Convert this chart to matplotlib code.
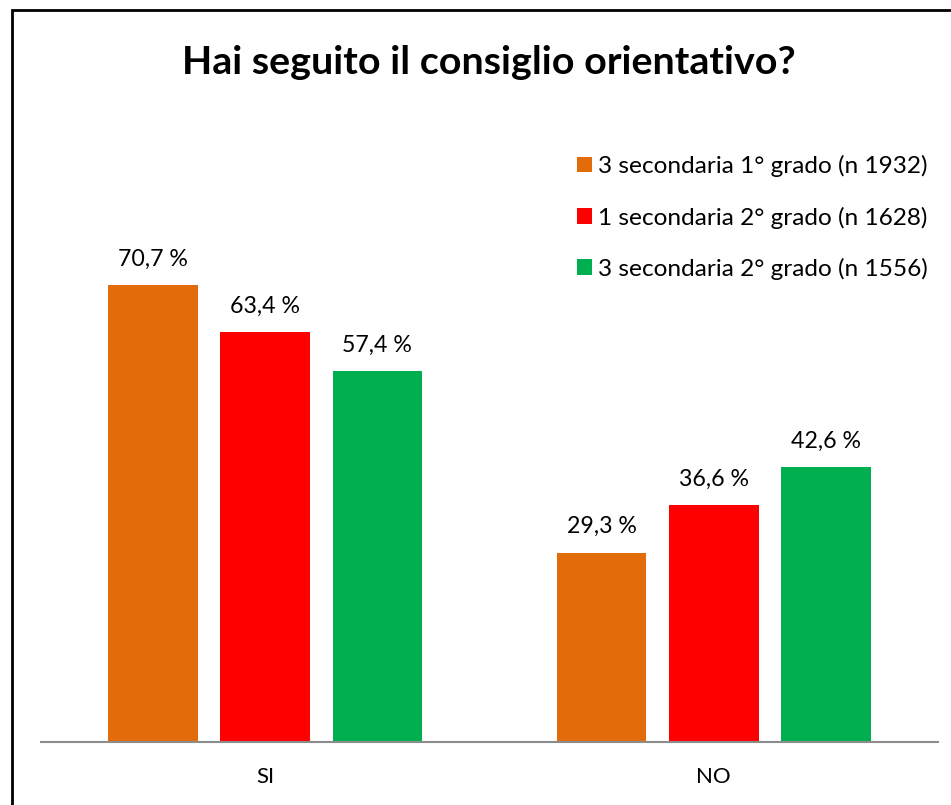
import numpy as np
import matplotlib.pyplot as plt
from matplotlib.patches import Rectangle

categorie = ['SI', 'NO']
serie = ['3 secondaria 1° grado (n 1932)',
         '1 secondaria 2° grado (n 1628)',
         '3 secondaria 2° grado (n 1556)']
valori_1grado_3 = [70.7, 29.3]
valori_2grado_1 = [63.4, 36.6]
valori_2grado_3 = [57.4, 42.6]
colori = ['#E36C0A', '#FF0000', '#00B050']

plt.rcParams['font.family'] = ['Lato', 'DejaVu Sans']

fig = plt.figure(figsize=(9.51, 8.05), dpi=100)
ax = fig.add_axes([41 / 951, 63 / 805, 897 / 951, 646.4 / 805])

x = np.arange(len(categorie))
larghezza = 0.2
passo = 0.25
handles = []
for i, (vals, col, lab) in enumerate(zip([valori_1grado_3, valori_2grado_1, valori_2grado_3], colori, serie)):
    b = ax.bar(x + (i - 1) * passo, vals, width=larghezza, color=col, label=lab)
    handles.append(b)
    for rect, v in zip(b, vals):
        ax.annotate(f'{v:.1f} %'.replace('.', ','),
                    (rect.get_x() + rect.get_width() / 2, v),
                    xytext=(0, 11), textcoords='offset points',
                    ha='center', va='bottom', fontsize=16.7)

ax.set_xlim(-0.5, 1.5)
ax.set_ylim(0, 100)
ax.set_xticks(x)
ax.set_xticklabels(categorie, fontsize=16)
ax.tick_params(axis='x', length=0, pad=18)
ax.set_yticks([])
for s in ['top', 'right', 'left']:
    ax.spines[s].set_visible(False)
ax.spines['bottom'].set_color('#8c8c8c')
ax.spines['bottom'].set_linewidth(1.5)

fig.legend(handles=handles, loc='upper left',
           bbox_to_anchor=(577 / 951, 1 - 155 / 805),
           frameon=False, fontsize=17.6, handlelength=0.62, handleheight=0.62,
           handletextpad=0.25, labelspacing=1.2, borderpad=0, borderaxespad=0)

fig.text(489 / 951, 1 - 63 / 805, 'Hai seguito il consiglio orientativo?',
         ha='center', va='center', fontsize=28.4, fontweight='bold')

# cornice
fig.patches.append(Rectangle((12 / 951, -0.05), 1.2, 1 - 10 / 805 + 0.05,
                             transform=fig.transFigure, fill=False,
                             edgecolor='black', linewidth=2))

fig.savefig('out.png', dpi=100)
